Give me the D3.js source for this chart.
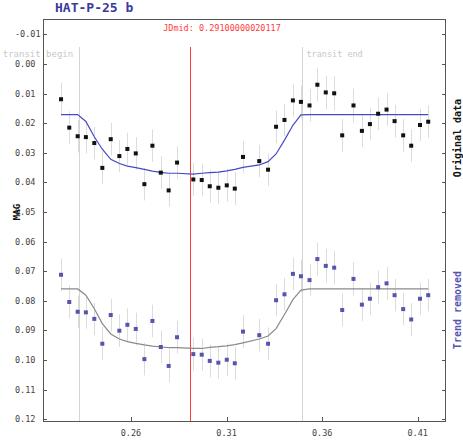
<!DOCTYPE html>
<html>
<head>
<meta charset="utf-8">
<script src="https://cdn.jsdelivr.net/npm/d3@7"></script>
<style>
  body { margin: 0; background: #fff; }
  svg { display: block; }
  text { font-family: "DejaVu Sans Mono", monospace; }
</style>
</head>
<body>
<div id="wrapper"></div>
<script>
// light curve values
let times = [0.2234, 0.2277, 0.2321, 0.2364, 0.2408, 0.2450, 0.2494, 0.2539, 0.2581, 0.2625,
    0.2670, 0.2712, 0.2756, 0.2797, 0.2841, 0.2926, 0.2970, 0.3012, 0.3057, 0.3101,
    0.3143, 0.3186, 0.3271, 0.3317, 0.3359, 0.3403, 0.3447, 0.3489, 0.3534, 0.3575,
    0.3619, 0.3663, 0.3705, 0.3764, 0.3808, 0.3850, 0.3893, 0.3937, 0.3979, 0.4024,
    0.4066, 0.4112, 0.4155];

let origMag = [0.0119, 0.0215, 0.0244, 0.0247, 0.0267, 0.0351, 0.0254, 0.0311, 0.0287, 0.0302,
    0.0406, 0.0276, 0.0367, 0.0427, 0.0333, 0.0390, 0.0392, 0.0413, 0.0418, 0.0410,
    0.0421, 0.0314, 0.0328, 0.0357, 0.0212, 0.0189, 0.0123, 0.0128, 0.0140, 0.0070,
    0.0096, 0.0099, 0.0241, 0.0140, 0.0226, 0.0203, 0.0168, 0.0154, 0.0193, 0.0241,
    0.0276, 0.0206, 0.0195];

let trendMag = [0.0712, 0.0804, 0.0837, 0.0839, 0.0861, 0.0945, 0.0848, 0.0901, 0.0881, 0.0895,
    0.0997, 0.0868, 0.0956, 0.1020, 0.0923, 0.0980, 0.0982, 0.1003, 0.1009, 0.0999,
    0.1011, 0.0904, 0.0916, 0.0945, 0.0798, 0.0778, 0.0709, 0.0717, 0.0730, 0.0659,
    0.0682, 0.0688, 0.0831, 0.0726, 0.0813, 0.0793, 0.0754, 0.0741, 0.0781, 0.0828,
    0.0863, 0.0793, 0.0781];

let magErr = [0.0055, 0.0055, 0.0055, 0.0055, 0.0055, 0.0055, 0.0055, 0.0055, 0.0055, 0.0055,
    0.0055, 0.0055, 0.0055, 0.0055, 0.0055, 0.0055, 0.0055, 0.0055, 0.0055, 0.0055,
    0.0055, 0.0055, 0.0055, 0.0055, 0.0055, 0.0055, 0.0055, 0.0055, 0.0055, 0.0057,
    0.0057, 0.0057, 0.0055, 0.0057, 0.0055, 0.0055, 0.0055, 0.0055, 0.0055, 0.0055,
    0.0055, 0.0055, 0.0055];

let origModel = [0.0171, 0.0171, 0.0171, 0.0194, 0.0246, 0.0288, 0.0322, 0.0336, 0.0345, 0.0350,
    0.0356, 0.0362, 0.0366, 0.0369, 0.0369, 0.0372, 0.0369, 0.0367, 0.0365, 0.0361,
    0.0356, 0.0349, 0.0341, 0.0330, 0.0304, 0.0257, 0.0207, 0.0172, 0.0171, 0.0171,
    0.0171, 0.0171, 0.0171, 0.0171, 0.0171, 0.0171, 0.0171, 0.0171, 0.0171, 0.0171,
    0.0171, 0.0171, 0.0171];

let trendModel = [0.0760, 0.0760, 0.0760, 0.0781, 0.0827, 0.0877, 0.0912, 0.0929, 0.0938, 0.0944,
    0.0949, 0.0953, 0.0956, 0.0958, 0.0958, 0.0961, 0.0961, 0.0957, 0.0955, 0.0952,
    0.0948, 0.0942, 0.0929, 0.0919, 0.0894, 0.0846, 0.0796, 0.0764, 0.0760, 0.0760,
    0.0760, 0.0760, 0.0760, 0.0760, 0.0760, 0.0760, 0.0760, 0.0760, 0.0760, 0.0760,
    0.0760, 0.0760, 0.0760];

let yTicks = [-0.01, 0.00, 0.01, 0.02, 0.03, 0.04, 0.05, 0.06, 0.07, 0.08, 0.09, 0.10, 0.11, 0.12];
let xTicks = [0.26, 0.31, 0.36, 0.41];

let jdMid = 0.29100000020117;
let transitBegin = 0.2329;
let transitEnd = 0.3497;

let titleText = 'HAT-P-25 b';

let width = 463, height = 443;
let plotLeft = 43, plotRight = 445, plotTop = 19, plotBottom = 421;

let svg = d3.select('#wrapper').append('svg')
    .attr('width', width)
    .attr('height', height);

//SCALES
let xScale = d3.scaleLinear().domain([0.21396, 0.42428]).range([plotLeft, plotRight]);
let yScale = d3.scaleLinear().domain([-0.0152, 0.1206]).range([plotTop, plotBottom]);

// title
svg.append('text').text(titleText)
    .attr('x', 55).attr('y', 12)
    .style('font-size', '13px').style('font-weight', 'bold')
    .attr('fill', '#3a3a9e');

// frame
svg.append('rect')
    .attr('x', plotLeft + 0.5).attr('y', plotTop + 0.5)
    .attr('width', plotRight - plotLeft).attr('height', plotBottom - plotTop)
    .attr('fill', 'none').attr('stroke', '#555');

// y ticks, both sides, inward
let yTickG = svg.append('g').classed('y-ticks', true);
yTickG.selectAll('.lt').data(yTicks).enter().append('line')
    .attr('x1', plotLeft).attr('x2', plotLeft + 4)
    .attr('y1', d => Math.round(yScale(d)) + 0.5).attr('y2', d => Math.round(yScale(d)) + 0.5)
    .attr('stroke', '#555');
yTickG.selectAll('.rt').data(yTicks).enter().append('line')
    .attr('x1', plotRight - 3).attr('x2', plotRight + 1)
    .attr('y1', d => Math.round(yScale(d)) + 0.5).attr('y2', d => Math.round(yScale(d)) + 0.5)
    .attr('stroke', '#555');
yTickG.selectAll('text').data(yTicks).enter().append('text')
    .text(d => d3.format('.2f')(d).replace('−', '-'))
    .attr('x', 15).attr('y', d => yScale(d) + 3)
    .style('font-size', '8.5px').attr('fill', '#444');

// x ticks
let xTickG = svg.append('g').classed('x-ticks', true);
xTickG.selectAll('line').data(xTicks).enter().append('line')
    .attr('x1', d => Math.round(xScale(d)) + 0.5).attr('x2', d => Math.round(xScale(d)) + 0.5)
    .attr('y1', plotBottom - 4).attr('y2', plotBottom)
    .attr('stroke', '#555');
xTickG.selectAll('text').data(xTicks).enter().append('text')
    .text(d => d3.format('.2f')(d))
    .attr('x', d => xScale(d)).attr('y', 436)
    .attr('text-anchor', 'middle')
    .style('font-size', '8.5px').attr('fill', '#444');

// transit markers
let markG = svg.append('g').classed('markers', true);
[transitBegin, transitEnd].forEach(t => {
    markG.append('line')
        .attr('x1', Math.round(xScale(t)) + 0.5).attr('x2', Math.round(xScale(t)) + 0.5)
        .attr('y1', 47).attr('y2', plotBottom)
        .attr('stroke', '#d4d4d4');
});
markG.append('text').text('transit begin')
    .attr('x', xScale(transitBegin) - 6).attr('y', 57)
    .attr('text-anchor', 'end')
    .style('font-size', '9px').attr('fill', '#c8c8c8');
markG.append('text').text('transit end')
    .attr('x', xScale(transitEnd) + 4).attr('y', 57)
    .style('font-size', '8.5px').attr('fill', '#c8c8c8');

// error bars
let series = [
    {mags: origMag, model: origModel, color: '#111', line: '#4848c8'},
    {mags: trendMag, model: trendModel, color: '#5555ad', line: '#8a8a8a'}
];

let errG = svg.append('g').classed('errors', true);
series.forEach(s => {
    errG.selectAll(null).data(times).enter().append('line')
        .attr('x1', (d) => Math.round(xScale(d)) + 0.5)
        .attr('x2', (d) => Math.round(xScale(d)) + 0.5)
        .attr('y1', (d, i) => yScale(s.mags[i] - magErr[i]))
        .attr('y2', (d, i) => yScale(s.mags[i] + magErr[i]))
        .attr('stroke', '#dcdcdc');
});

// JD mid line
svg.append('line')
    .attr('x1', Math.round(xScale(jdMid)) + 0.5).attr('x2', Math.round(xScale(jdMid)) + 0.5)
    .attr('y1', 47).attr('y2', plotBottom)
    .attr('stroke', '#ff3b3b');
svg.append('text').text('JDmid: ' + jdMid)
    .attr('x', 222).attr('y', 31)
    .attr('text-anchor', 'middle')
    .style('font-size', '8.5px').attr('fill', '#ff3b3b');

// model lines
let lineGen = d3.line()
    .x(d => xScale(d[0]))
    .y(d => yScale(d[1]));

series.forEach(s => {
    svg.append('path')
        .attr('d', lineGen(times.map((t, i) => [t, s.model[i]])))
        .attr('fill', 'none')
        .attr('stroke', s.line)
        .attr('stroke-width', 1.2);
});

// points
series.forEach(s => {
    svg.append('g').selectAll('rect').data(times).enter().append('rect')
        .attr('x', d => xScale(d) - 2)
        .attr('y', (d, i) => yScale(s.mags[i]) - 2)
        .attr('width', 4).attr('height', 4)
        .attr('fill', s.color);
});

// axis titles
svg.append('text').text('MAG')
    .attr('transform', 'translate(20, 212) rotate(-90)')
    .attr('text-anchor', 'middle')
    .style('font-size', '9px').style('font-weight', 'bold')
    .attr('fill', '#111');

svg.append('text').text('Original data')
    .attr('transform', 'translate(461, 138) rotate(-90)')
    .attr('text-anchor', 'middle')
    .style('font-size', '10px').style('font-weight', 'bold')
    .attr('fill', '#111');

svg.append('text').text('Trend removed')
    .attr('transform', 'translate(461, 310) rotate(-90)')
    .attr('text-anchor', 'middle')
    .style('font-size', '10px').style('font-weight', 'bold')
    .attr('fill', '#5555ad');
</script>
</body>
</html>
